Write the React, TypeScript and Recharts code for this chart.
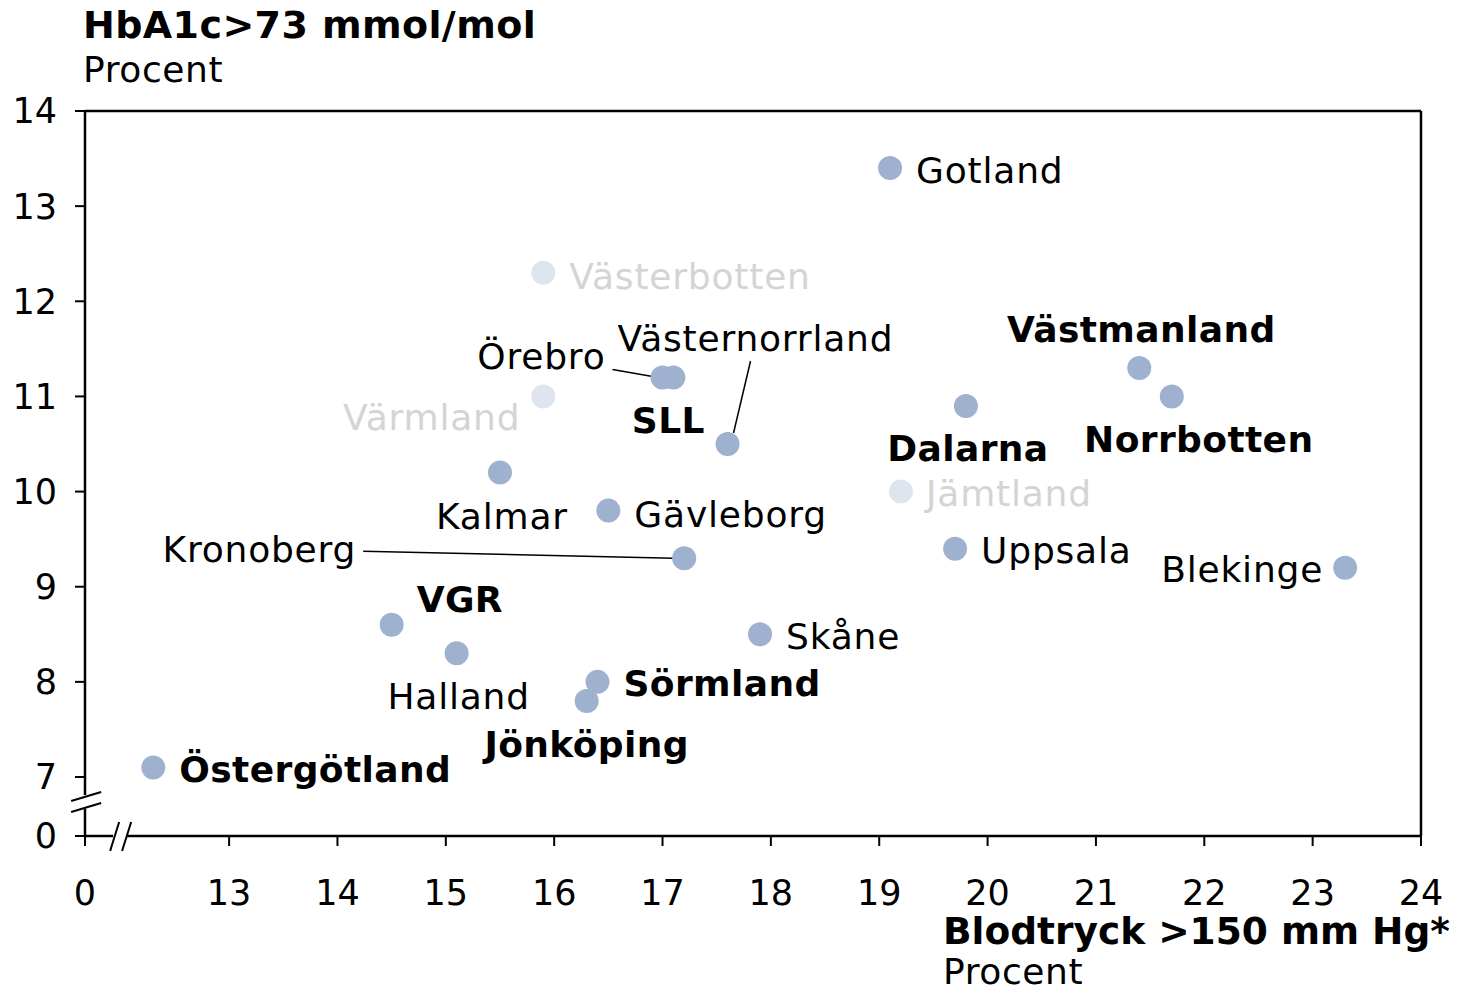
import { ScatterChart, Scatter, XAxis, YAxis, ReferenceLine } from "recharts";

// Broken axes: the first tick on each axis is drawn as "0"
const X_START = 11.67;
const Y_START = 6.38;

const regions = [
  "Gotland", "Västerbotten", "Örebro", "SLL", "Värmland", "Västernorrland",
  "Kalmar", "Gävleborg", "Kronoberg", "VGR", "Halland", "Sörmland",
  "Jönköping", "Skåne", "Östergötland", "Dalarna", "Jämtland", "Uppsala",
  "Västmanland", "Norrbotten", "Blekinge",
];
// Blodtryck >150 mm Hg, procent
const bloodPressure = [
  19.1, 15.9, 17.0, 17.1, 15.9, 17.6, 15.5, 16.5, 17.2, 14.5, 15.1, 16.4,
  16.3, 17.9, 12.3, 19.8, 19.2, 19.7, 21.4, 21.7, 23.3,
];
// HbA1c >73 mmol/mol, procent
const hba1c = [
  13.4, 12.3, 11.2, 11.2, 11.0, 10.5, 10.2, 9.8, 9.3, 8.6, 8.3, 8.0,
  7.8, 8.5, 7.1, 10.9, 10.0, 9.4, 11.3, 11.0, 9.2,
];
const boldRegions = ["SLL", "VGR", "Sörmland", "Jönköping", "Östergötland", "Dalarna", "Västmanland", "Norrbotten"];
const fadedRegions = ["Västerbotten", "Värmland", "Jämtland"];

const xTicks = [X_START, 13, 14, 15, 16, 17, 18, 19, 20, 21, 22, 23, 24];
const yTicks = [Y_START, 7, 8, 9, 10, 11, 12, 13, 14];

const data = regions.map((name, i) => ({ name, x: bloodPressure[i], y: hba1c[i] }));

// label placement relative to the dot centre (text baseline)
type Placement = { dx: number; dy: number; anchor: "start" | "middle" | "end"; leader?: number[] };
const placement: Record<string, Placement> = {
  Gotland: { dx: 26, dy: 15, anchor: "start" },
  Västerbotten: { dx: 26, dy: 16, anchor: "start" },
  Örebro: { dx: -57, dy: -8, anchor: "end", leader: [-50, -8, -10, -1] },
  SLL: { dx: -5, dy: 56, anchor: "middle" },
  Värmland: { dx: -23, dy: 34, anchor: "end" },
  Västernorrland: { dx: -110, dy: -93, anchor: "start", leader: [23, -83, 6, -11] },
  Kalmar: { dx: 2, dy: 56, anchor: "middle" },
  Gävleborg: { dx: 26, dy: 16, anchor: "start" },
  Kronoberg: { dx: -328, dy: 4, anchor: "end", leader: [-321, -7, -11, 0] },
  VGR: { dx: 25, dy: -13, anchor: "start" },
  Halland: { dx: 2, dy: 56, anchor: "middle" },
  Sörmland: { dx: 26, dy: 14, anchor: "start" },
  Jönköping: { dx: 0, dy: 56, anchor: "middle" },
  Skåne: { dx: 26, dy: 15, anchor: "start" },
  Östergötland: { dx: 26, dy: 15, anchor: "start" },
  Dalarna: { dx: 2, dy: 55, anchor: "middle" },
  Jämtland: { dx: 25, dy: 14, anchor: "start" },
  Uppsala: { dx: 26, dy: 14, anchor: "start" },
  Västmanland: { dx: 2, dy: -26, anchor: "middle" },
  Norrbotten: { dx: 27, dy: 56, anchor: "middle" },
  Blekinge: { dx: -22, dy: 14, anchor: "end" },
};

const FONT = "'DejaVu Sans', Verdana, sans-serif";

function RegionDot(props: any) {
  const { cx, cy, payload } = props;
  const p = placement[payload.name];
  const faded = fadedRegions.includes(payload.name);
  const bold = boldRegions.includes(payload.name);
  return (
    <g>
      {p.leader && (
        <line
          x1={cx + p.leader[0]} y1={cy + p.leader[1]}
          x2={cx + p.leader[2]} y2={cy + p.leader[3]}
          stroke="#000" strokeWidth={1.5}
        />
      )}
      <circle cx={cx} cy={cy} r={12} fill={faded ? "#dfe5ef" : "#9eb1cf"} />
      <text
        x={cx + p.dx} y={cy + p.dy} textAnchor={p.anchor}
        fontFamily={FONT} fontSize={36} fontWeight={bold ? "bold" : "normal"}
        letterSpacing={bold ? 0.4 : 0.8}
        fill={faded ? "#d4d4d4" : "#000"}
      >
        {payload.name}
      </text>
    </g>
  );
}

const frame = { stroke: "#000", strokeWidth: 2.5, ifOverflow: "visible" as const };
const slash = { stroke: "#000", strokeWidth: 2, ifOverflow: "visible" as const };

export default function App() {
  const tickFmt = (v: number) => (v < 6.5 ? "0" : String(v));
  return (
    <div style={{ position: "relative", width: 1462, height: 992 }}>
      <style>{`body{margin:0}`}</style>
      <ScatterChart width={1462} height={992} margin={{ top: 111, right: 41, bottom: 0, left: 0 }}>
        <XAxis
          type="number" dataKey="x" domain={[X_START, 24]} ticks={xTicks}
          allowDataOverflow height={156} axisLine={false}
          tickSize={10} tickMargin={34}
          tickLine={{ stroke: "#000", strokeWidth: 2 }}
          tick={{ fill: "#000", fontSize: 35, fontFamily: FONT }}
          tickFormatter={(v: number) => (v < 12 ? "0" : String(v))}
        />
        <YAxis
          type="number" dataKey="y" domain={[Y_START, 14]} ticks={yTicks}
          allowDataOverflow width={85} axisLine={false}
          tickSize={10} tickMargin={18}
          tickLine={{ stroke: "#000", strokeWidth: 2 }}
          tick={{ fill: "#000", fontSize: 35, fontFamily: FONT }}
          tickFormatter={tickFmt}
        />
        {/* frame, with gaps at the axis breaks */}
        <ReferenceLine segment={[{ x: X_START, y: 14 }, { x: 24, y: 14 }]} {...frame} />
        <ReferenceLine segment={[{ x: 24, y: Y_START }, { x: 24, y: 14 }]} {...frame} />
        <ReferenceLine segment={[{ x: X_START, y: 6.811 }, { x: X_START, y: 14 }]} {...frame} />
        <ReferenceLine segment={[{ x: X_START, y: Y_START }, { x: X_START, y: 6.664 }]} {...frame} />
        <ReferenceLine segment={[{ x: X_START, y: Y_START }, { x: 11.929, y: Y_START }]} {...frame} />
        <ReferenceLine segment={[{ x: 12.059, y: Y_START }, { x: 24, y: Y_START }]} {...frame} />
        {/* break marks */}
        <ReferenceLine segment={[{ x: 11.542, y: 6.748 }, { x: 11.819, y: 6.842 }]} {...slash} />
        <ReferenceLine segment={[{ x: 11.542, y: 6.632 }, { x: 11.819, y: 6.727 }]} {...slash} />
        <ReferenceLine segment={[{ x: 11.902, y: 6.222 }, { x: 11.985, y: 6.527 }]} {...slash} />
        <ReferenceLine segment={[{ x: 12.012, y: 6.222 }, { x: 12.096, y: 6.527 }]} {...slash} />
        <Scatter data={data} shape={RegionDot} isAnimationActive={false} />
      </ScatterChart>
      <svg
        width={1462} height={992}
        style={{ position: "absolute", left: 0, top: 0, pointerEvents: "none" }}
      >
        <text x={83} y={38} fontFamily={FONT} fontSize={38} fontWeight="bold" letterSpacing={0.4}>HbA1c&gt;73 mmol/mol</text>
        <text x={83} y={82} fontFamily={FONT} fontSize={36} letterSpacing={0.6}>Procent</text>
        <text x={943} y={944} fontFamily={FONT} fontSize={37.5} fontWeight="bold">Blodtryck &gt;150 mm Hg*</text>
        <text x={943} y={984} fontFamily={FONT} fontSize={36} letterSpacing={0.6}>Procent</text>
      </svg>
    </div>
  );
}
